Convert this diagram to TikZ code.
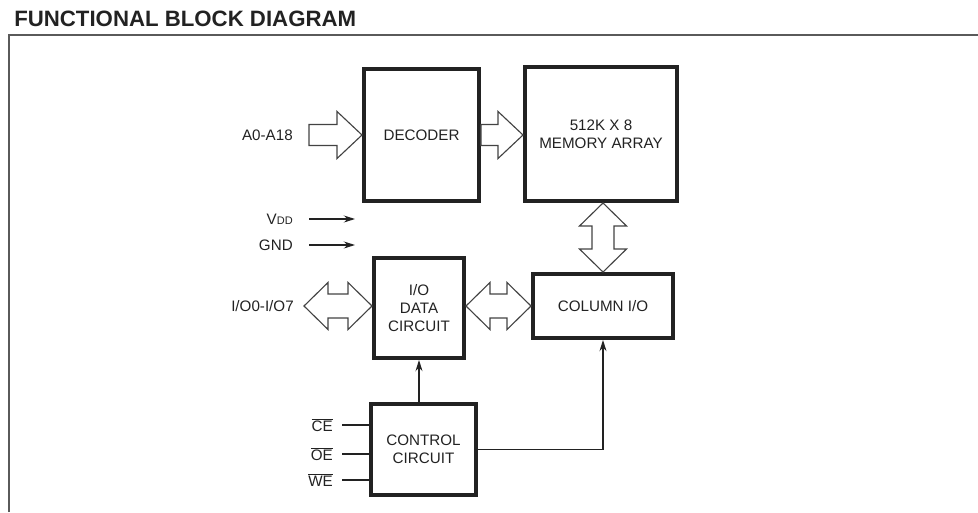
\documentclass[tikz,border=0pt]{standalone}
\usepackage{fontspec}
\setmainfont{Liberation Sans}
\usetikzlibrary{arrows.meta,positioning,calc}

\definecolor{ink}{HTML}{222222}
\definecolor{framegray}{HTML}{5A5A5A}
\newcommand{\blockfont}{\fontsize{10.8}{13}\selectfont}

\tikzset{
  block/.style={draw=ink, line width=2.8pt, align=center, inner sep=0pt, text=ink, font=\blockfont},
  hollow/.style={draw=ink!85, line width=0.8pt, fill=white, line join=miter},
  sig/.style={draw=ink, line width=0.8pt},
  lbl/.style={font=\blockfont, text=ink, inner sep=0pt},
}

% fat arrow, horizontal: #1 tail, #2 tip
\newcommand{\fatarrow}[2]{%
  \draw[hollow] ($(#1)+(0,-10.5)$) -- ($(#2)+(-25,-10.5)$) -- ($(#2)+(-25,-23.5)$) -- (#2)
    -- ($(#2)+(-25,23.5)$) -- ($(#2)+(-25,10.5)$) -- ($(#1)+(0,10.5)$) -- cycle;}
% fat double arrow, horizontal: #1 left tip, #2 right tip
\newcommand{\fatbiarrow}[2]{%
  \draw[hollow] (#1) -- ($(#1)+(24,-23.5)$) -- ($(#1)+(24,-12)$) -- ($(#2)+(-24,-12)$)
    -- ($(#2)+(-24,-23.5)$) -- (#2) -- ($(#2)+(-24,23.5)$) -- ($(#2)+(-24,12)$)
    -- ($(#1)+(24,12)$) -- ($(#1)+(24,23.5)$) -- cycle;}
% fat double arrow, vertical: #1 top tip, #2 bottom tip
\newcommand{\fatbiarrowv}[2]{%
  \draw[hollow] (#1) -- ($(#1)+(23.5,23)$) -- ($(#1)+(11,23)$) -- ($(#2)+(11,-23)$)
    -- ($(#2)+(23.5,-23)$) -- (#2) -- ($(#2)+(-23.5,-23)$) -- ($(#2)+(-11,-23)$)
    -- ($(#1)+(-11,23)$) -- ($(#1)+(-23.5,23)$) -- cycle;}

\begin{document}
\begin{tikzpicture}[x=0.025cm, y=-0.025cm, >={Stealth[length=8pt,width=5pt]}]
  \useasboundingbox (0,0) rectangle (978,512);

  % title and frame
  \node[anchor=base west, inner sep=0pt, text=ink, font=\fontsize{15.8}{17}\selectfont\bfseries] (title) at (14,27) {FUNCTIONAL BLOCK DIAGRAM};
  \draw[framegray, line width=1.5pt] (9,512) -- (9,35) -- (978,35);

  % blocks
  \node[block, minimum width=2.875cm, minimum height=3.3cm] (dec) at (421.5,135) {DECODER};
  \node[block, minimum width=3.8cm, minimum height=3.35cm] (mem) at (601,134) {512K X 8\\MEMORY ARRAY};
  \node[block, minimum width=3.5cm, minimum height=1.6cm] (col) at (603,306) {COLUMN I/O};
  \node[block, minimum width=2.25cm, minimum height=2.5cm] (io) at (419,308) {I/O\\DATA\\CIRCUIT};
  \node[block, minimum width=2.625cm, minimum height=2.275cm] (ctl) at (423.5,449.5) {CONTROL\\CIRCUIT};

  % address bus
  \coordinate (atail) at ($(dec.west)+(-53,0)$);
  \node[lbl, left=0.4cm of atail] (alab) {A0-A18};
  \fatarrow{atail}{dec.west}
  \coordinate (memin) at (dec.east -| mem.west);
  \fatarrow{dec.east}{memin}

  % memory <-> column
  \coordinate (memout) at (col.north |- mem.south);
  \fatbiarrowv{memout}{col.north}

  % data bus
  \coordinate (iotip) at (304,306);
  \coordinate (ioin) at (io.west |- iotip);
  \coordinate (ioout) at (io.east |- col.west);
  \node[lbl, left=0.25cm of iotip] (iolab) {I/O0-I/O7};
  \fatbiarrow{iotip}{ioin}
  \fatbiarrow{ioout}{col.west}

  % supply
  \coordinate (vdd) at (309,219);
  \coordinate (vddend) at (355,219);
  \coordinate (gnd) at (309,245);
  \coordinate (gndend) at (355,245);
  \node[lbl, left=0.4cm of vdd] (vddlab) {V{\fontsize{7.8}{9}\selectfont DD}};
  \node[lbl, left=0.4cm of gnd] (gndlab) {GND};
  \draw[sig, ->] (vdd) -- (vddend);
  \draw[sig, ->] (gnd) -- (gndend);

  % control inputs
  \coordinate (ce) at ($(ctl.west)+(-27,-24.5)$);
  \coordinate (oe) at ($(ctl.west)+(-27,4.5)$);
  \coordinate (we) at ($(ctl.west)+(-27,30.5)$);
  \node[lbl, left=0.225cm of ce] (celab) {$\overline{\hbox{CE}}$};
  \node[lbl, left=0.225cm of oe] (oelab) {$\overline{\hbox{OE}}$};
  \node[lbl, left=0.225cm of we] (welab) {$\overline{\hbox{WE}}$};
  \draw[sig] (ce) -- (ce -| ctl.west);
  \draw[sig] (oe) -- (oe -| ctl.west);
  \draw[sig] (we) -- (we -| ctl.west);

  % control outputs
  \draw[sig, ->] (io.south |- ctl.north) -- (io.south);
  \draw[sig, ->] (ctl.east) -| (col.south);
\end{tikzpicture}
\end{document}
